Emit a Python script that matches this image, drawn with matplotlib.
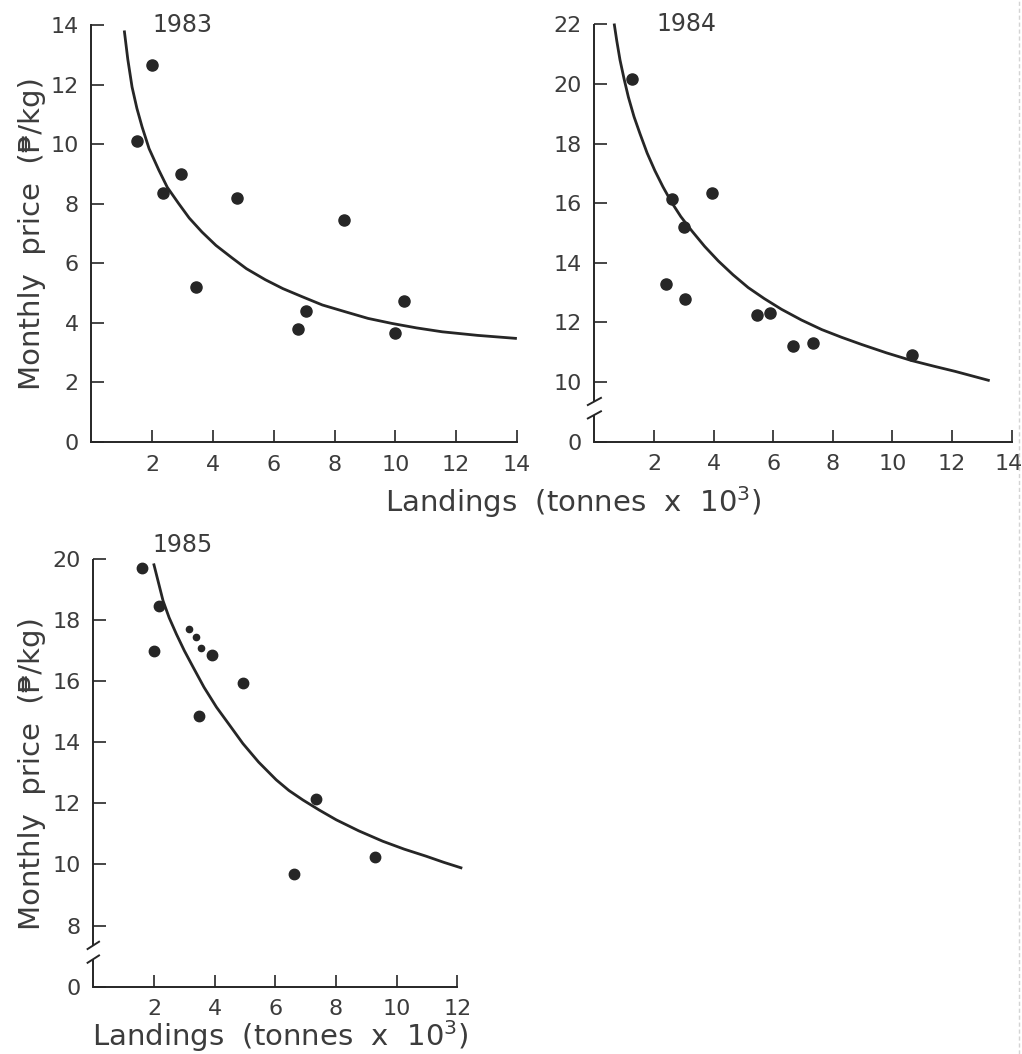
import matplotlib
matplotlib.use("Agg")
import matplotlib.pyplot as plt
import matplotlib.transforms as mtrans
from matplotlib.lines import Line2D

plt.rcParams['font.family'] = ['DejaVu Sans']

# monthly landings (tonnes x 10^3) and price (P/kg)
land83 = [1.5, 2.0, 2.35, 2.95, 3.45, 4.8, 6.8, 7.05, 8.3, 10.0, 10.3]
price83 = [10.1, 12.65, 8.35, 9.0, 5.2, 8.2, 3.8, 4.4, 7.45, 3.65, 4.75]

land84 = [1.25, 2.4, 2.6, 3.0, 3.05, 3.95, 5.45, 5.9, 6.65, 7.35, 10.65]
price84 = [20.15, 13.3, 16.15, 15.2, 12.8, 16.35, 12.25, 12.3, 11.2, 11.3, 10.9]

land85 = [1.6, 2.0, 2.15, 3.15, 3.4, 3.55, 3.9, 3.5, 4.95, 6.6, 7.35, 9.3]
price85 = [19.7, 17.0, 18.45, 17.7, 17.45, 17.1, 16.85, 14.85, 15.95, 9.7, 12.15, 10.25]
dot85 = [7.5, 7.5, 7.5, 4.5, 4.5, 4.5, 7.5, 7.5, 7.5, 7.5, 7.5, 7.5]

# fitted price-landings curves
fit83_x = [1.09, 1.2, 1.34, 1.5, 1.67, 1.9, 2.22, 2.5, 2.87, 3.22, 3.64, 4.1,
           4.63, 5.1, 5.72, 6.3, 6.93, 7.6, 8.36, 9.1, 9.89, 10.7, 11.54,
           12.7, 13.95]
fit83_y = [13.77, 12.85, 11.92, 11.2, 10.58, 9.85, 9.13, 8.55, 8.01, 7.52, 7.05,
           6.6, 6.18, 5.82, 5.45, 5.15, 4.88, 4.6, 4.37, 4.15, 3.98, 3.83,
           3.70, 3.58, 3.48]

fit84_x = [0.67, 0.75, 0.86, 1.0, 1.14, 1.33, 1.53, 1.77, 2.03, 2.3, 2.59,
           2.9, 3.27, 3.7, 4.16, 4.65, 5.16, 5.7, 6.28, 6.95, 7.63, 8.3, 8.97,
           9.8, 10.65, 11.4, 12.1, 13.22]
fit84_y = [21.98, 21.45, 20.8, 20.15, 19.56, 18.9, 18.33, 17.68, 17.09, 16.55,
           16.03, 15.55, 15.07, 14.55, 14.06, 13.6, 13.17, 12.8, 12.44, 12.08,
           11.76, 11.5, 11.26, 10.98, 10.72, 10.53, 10.36, 10.06]

fit85_x = [2.0, 2.15, 2.30, 2.5, 2.74, 3.0, 3.29, 3.65, 4.06, 4.5, 4.93, 5.45,
           6.03, 6.45, 6.91, 7.45, 8.01, 8.75, 9.54, 10.25, 10.97, 11.55, 12.12]
fit85_y = [19.81, 19.22, 18.63, 18.08, 17.54, 17.0, 16.46, 15.8, 15.15, 14.55,
           13.96, 13.35, 12.77, 12.42, 12.11, 11.78, 11.46, 11.1, 10.76, 10.5,
           10.27, 10.07, 9.89]

INK = '#262626'
TXT = '#3c3c3c'
W, H = 1022, 1054


def box(x0, x1, ytop, ybot):
    return [x0 / W, 1 - ybot / H, (x1 - x0) / W, (ybot - ytop) / H]


def setup(ax, xmax, ymin, ymax, yticks, ylabels, broken=False):
    ax.set_xlim(0, xmax)
    ax.set_ylim(ymin, ymax)
    ax.spines['top'].set_visible(False)
    ax.spines['right'].set_visible(False)
    for side in ('bottom', 'left'):
        ax.spines[side].set_linewidth(1.4)
        ax.spines[side].set_color(INK)
    ax.set_xticks(range(2, xmax + 1, 2))
    ax.set_yticks(yticks)
    ax.set_yticklabels(ylabels)
    ax.tick_params(direction='in', length=9, width=1.2, color=INK,
                   labelcolor=TXT, labelsize=16, pad=9)
    ax.patch.set_alpha(0)
    if broken:
        # y axis drawn by hand with a break just above the zero
        ax.spines['left'].set_visible(False)
        lo, hi = ymin + 0.9, ymin + 1.35
        kw = dict(color=INK, lw=1.4, clip_on=False, solid_capstyle='butt')
        ax.plot([0, 0], [ymin, lo], **kw)
        ax.plot([0, 0], [hi, ymax], **kw)
        dx = 0.22 * xmax / 14
        for yb in (lo, hi):
            ax.plot([-dx, dx], [yb - 0.12, yb + 0.12], color=INK, lw=1.4,
                    clip_on=False)


fig = plt.figure(figsize=(W / 100, H / 100), dpi=100)

ax83 = fig.add_axes(box(91.3, 517, 25, 442))
setup(ax83, 14, 0, 14, range(0, 15, 2), [str(v) for v in range(0, 15, 2)])
ax83.plot(fit83_x, fit83_y, color=INK, lw=2.0, clip_on=False)
ax83.plot(land83, price83, 'o', color=INK, ms=8, clip_on=False)
ax83.text(3.0, 14.0, '1983', fontsize=17, color=TXT, ha='center', va='center')

ax84 = fig.add_axes(box(594.4, 1011.6, 24.3, 441.7))
yt84 = list(range(8, 23, 2))
setup(ax84, 14, 8, 22, yt84, ['0'] + [str(v) for v in yt84[1:]], broken=True)
ax84.plot(fit84_x, fit84_y, color=INK, lw=2.0, clip_on=False)
ax84.plot(land84, price84, 'o', color=INK, ms=8, clip_on=False)
ax84.text(3.1, 22.0, '1984', fontsize=17, color=TXT, ha='center', va='center')
# keep the last tick label just inside the page edge
last = ax84.get_xticklabels()[-1]
last.set_transform(last.get_transform() +
                   mtrans.ScaledTranslation(-3 / 100, 0, fig.dpi_scale_trans))

ax85 = fig.add_axes(box(93.3, 457.3, 559, 986.6))
yt85 = list(range(6, 21, 2))
setup(ax85, 12, 6, 20, yt85, ['0'] + [str(v) for v in yt85[1:]], broken=True)
ax85.plot(fit85_x, fit85_y, color=INK, lw=2.0, clip_on=False)
for x, y, s in zip(land85, price85, dot85):
    ax85.plot(x, y, 'o', color=INK, ms=s, clip_on=False)
ax85.text(2.95, 20.45, '1985', fontsize=17, color=TXT, ha='center', va='center')

# shared labels
ylab = 'Monthly  price  (\u20b1/kg)'
for yc in (234, 774):
    fig.text(32 / W, 1 - yc / H, ylab, rotation=90, fontsize=21, color=TXT,
             ha='center', va='center')
xlab = 'Landings  (tonnes  x  10$^3$)'
fig.text(573 / W, 1 - 502 / H, xlab, fontsize=21, color=TXT,
         ha='center', va='center')
fig.text(280 / W, 1 - 1036 / H, xlab, fontsize=21, color=TXT,
         ha='center', va='center')

# faint edge of the scanned page
fig.add_artist(Line2D([1019 / W, 1019 / W], [0, 1], color='#d4d4d4', lw=1,
                      ls=(0, (3, 2)), transform=fig.transFigure))

fig.savefig('out.png', dpi=100)
